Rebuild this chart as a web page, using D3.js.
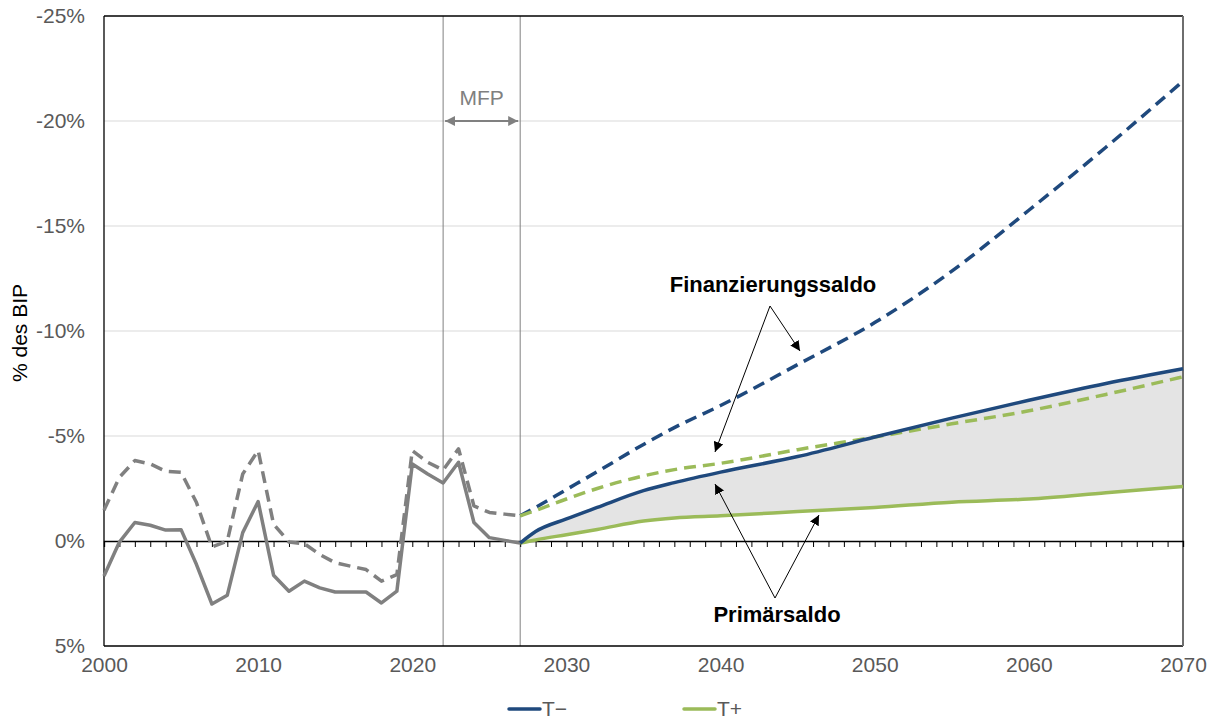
<!DOCTYPE html>
<html><head><meta charset="utf-8">
<script src="https://cdn.jsdelivr.net/npm/d3@7"></script>
<style>body{margin:0;background:#fff}svg{display:block;font-family:Arial,"Liberation Sans",sans-serif}</style>
</head><body><svg id="c" width="1215" height="724"></svg>
<script>
// Historical data (2000-2027)
const histYears = d3.range(2000, 2028);
const histPrimary = [1.67, 0.05, -0.88, -0.75, -0.52, -0.54, 1.12, 3.0, 2.58, -0.4, -1.88, 1.63, 2.39, 1.91, 2.23, 2.43, 2.43, 2.43, 2.95, 2.39, -3.67, -3.19, -2.76, -3.75, -0.88, -0.16, -0.03, 0.1];
const histFinancing = [-1.47, -3.03, -3.83, -3.67, -3.32, -3.27, -1.83, 0.29, 0.0, -3.19, -4.31, -0.8, 0.05, 0.13, 0.64, 1.04, 1.2, 1.36, 1.91, 1.6, -4.31, -3.75, -3.38, -4.39, -1.67, -1.36, -1.28, -1.2];
// Projections (2027-2070)
const projYears = [2027, 2028, 2030, 2032, 2035, 2037, 2040, 2045, 2050, 2055, 2060, 2065, 2070];
const tMinusFinancing = [-1.2, -1.6, -2.45, -3.3, -4.6, -5.4, -6.45, -8.4, -10.4, -12.85, -15.75, -18.75, -21.9];
const tPlusFinancing = [-1.2, -1.45, -2.0, -2.5, -3.1, -3.4, -3.7, -4.35, -4.95, -5.58, -6.2, -6.98, -7.82];
const tMinusPrimary = [0.1, -0.45, -1.05, -1.6, -2.4, -2.78, -3.28, -4.02, -4.95, -5.85, -6.7, -7.5, -8.2];
const tPlusPrimary = [0.1, -0.05, -0.3, -0.55, -0.95, -1.1, -1.2, -1.4, -1.6, -1.85, -2.0, -2.3, -2.6];
const yTicks = [-25, -20, -15, -10, -5, 0, 5];
const xTicks = [2000, 2010, 2020, 2030, 2040, 2050, 2060, 2070];
const mfpYears = [2022, 2027];
const legendItems = ["T\u2212", "T+"];

const svg = d3.select("#c");
const L = 104, R = 1183, T = 16, B = 646;
const x = d3.scaleLinear().domain([2000, 2070]).range([L, R]);
const y = d3.scaleLinear().domain([-25, 5]).range([T, B]);
const gray = "#808080", blue = "#1f497d", green = "#9bbb59", txt = "#595959";
const FS = 21;

// gridlines
svg.append("g").selectAll("line").data(yTicks.filter(v => v > -25 && v < 0)).join("line")
  .attr("x1", L).attr("x2", R).attr("y1", d => y(d)).attr("y2", d => y(d))
  .attr("stroke", "#d9d9d9").attr("stroke-width", 1);

// shaded area between primary balances
const proj = projYears.map((yr, i) => ({yr, a: tMinusPrimary[i], b: tPlusPrimary[i]}));
svg.append("path").datum(proj)
  .attr("d", d3.area().x(d => x(d.yr)).y0(d => y(d.b)).y1(d => y(d.a)).curve(d3.curveMonotoneX))
  .attr("fill", "#e4e4e4");

// MFP lines
svg.append("g").selectAll("line").data(mfpYears).join("line")
  .attr("x1", d => x(d)).attr("x2", d => x(d)).attr("y1", T).attr("y2", B)
  .attr("stroke", gray).attr("stroke-width", 1);

// axes
const yAxis = d3.axisLeft(y).tickValues(yTicks).tickSize(0).tickPadding(19).tickFormat(d => d + "%");
const gy = svg.append("g").attr("transform", `translate(${L},0)`).call(yAxis);
gy.select(".domain").remove();
gy.selectAll("text").attr("font-size", FS).attr("fill", txt).attr("font-family", "Arial, Liberation Sans, sans-serif");

const xAxis = d3.axisBottom(x).tickValues(xTicks).tickSize(0).tickPadding(11).tickFormat(d3.format("d"));
const gx = svg.append("g").attr("transform", `translate(0,${B})`).call(xAxis);
gx.select(".domain").remove();
gx.selectAll("text").attr("font-size", FS).attr("fill", txt).attr("font-family", "Arial, Liberation Sans, sans-serif");

// frame
svg.append("line").attr("x1", L).attr("x2", R).attr("y1", T).attr("y2", T).attr("stroke", "#000").attr("stroke-width", 1.3);
svg.append("line").attr("x1", L).attr("x2", L).attr("y1", T).attr("y2", B).attr("stroke", "#000").attr("stroke-width", 1.3);
svg.append("line").attr("x1", L).attr("x2", R).attr("y1", B).attr("y2", B).attr("stroke", "#000").attr("stroke-width", 1.3);
svg.append("line").attr("x1", R).attr("x2", R).attr("y1", T).attr("y2", B).attr("stroke", "#6e6e6e").attr("stroke-width", 2);

// zero line with yearly ticks
const zeroAxis = d3.axisBottom(x).tickValues(d3.range(2000, 2071)).tickSize(6).tickFormat("");
const gz = svg.append("g").attr("transform", `translate(0,${y(0)})`).call(zeroAxis);
gz.select(".domain").attr("stroke", "#000").attr("stroke-width", 1.3);
gz.selectAll(".tick line").attr("stroke", "#000").attr("stroke-width", 1);

// y title
svg.append("text").attr("transform", `translate(27,333) rotate(-90)`)
  .attr("text-anchor", "middle").attr("font-size", FS).attr("fill", "#000").text("% des BIP");

// lines
const line = d3.line().x(d => x(d[0])).y(d => y(d[1]));
const lineC = d3.line().x(d => x(d[0])).y(d => y(d[1])).curve(d3.curveMonotoneX);
function draw(years, vals, color, dash, gen) {
  svg.append("path").datum(years.map((yr, i) => [yr, vals[i]]))
    .attr("d", gen).attr("fill", "none").attr("stroke", color).attr("stroke-width", 3.5)
    .attr("stroke-linejoin", "round").attr("stroke-dasharray", dash ? "12,7" : null);
}
draw(histYears, histFinancing, gray, true, line);
draw(histYears, histPrimary, gray, false, line);
draw(projYears, tMinusFinancing, blue, true, lineC);
draw(projYears, tPlusFinancing, green, true, lineC);
draw(projYears, tPlusPrimary, green, false, lineC);
draw(projYears, tMinusPrimary, blue, false, lineC);

// arrow markers
const defs = svg.append("defs");
defs.append("marker").attr("id", "ah").attr("viewBox", "0 0 10 10").attr("refX", 10).attr("refY", 5)
  .attr("markerWidth", 10).attr("markerHeight", 10).attr("markerUnits", "userSpaceOnUse").attr("orient", "auto")
  .append("path").attr("d", "M0,0L10,5L0,10z").attr("fill", "#000");
defs.append("marker").attr("id", "ag").attr("viewBox", "0 0 10 10").attr("refX", 10).attr("refY", 5)
  .attr("markerWidth", 10).attr("markerHeight", 10).attr("markerUnits", "userSpaceOnUse").attr("orient", "auto-start-reverse")
  .append("path").attr("d", "M0,0L10,5L0,10z").attr("fill", gray);

// MFP annotation
svg.append("line").attr("x1", x(2022) + 2).attr("x2", x(2027) - 2).attr("y1", y(-20)).attr("y2", y(-20))
  .attr("stroke", gray).attr("stroke-width", 2).attr("marker-start", "url(#ag)").attr("marker-end", "url(#ag)");
svg.append("text").attr("x", (x(2022) + x(2027)) / 2).attr("y", 105).attr("text-anchor", "middle")
  .attr("font-size", FS).attr("fill", gray).text("MFP");

// annotations
svg.append("text").attr("x", 773).attr("y", 292).attr("text-anchor", "middle").attr("font-size", 22)
  .attr("font-weight", "bold").attr("fill", "#000").text("Finanzierungssaldo");
const arr = (x1, y1, x2, y2) => svg.append("line").attr("x1", x1).attr("y1", y1).attr("x2", x2).attr("y2", y2)
  .attr("stroke", "#000").attr("stroke-width", 1).attr("marker-end", "url(#ah)");
arr(770, 306, 800, 351);
arr(770, 306, 715, 452);
svg.append("text").attr("x", 777).attr("y", 622).attr("text-anchor", "middle").attr("font-size", 22)
  .attr("font-weight", "bold").attr("fill", "#000").text("Primärsaldo");
arr(775, 598, 715, 484);
arr(775, 598, 819, 515);

// legend
const lg = svg.append("g");
[blue, green].forEach((c, i) => {
  const lx = 509 + i * 175;
  lg.append("line").attr("x1", lx).attr("x2", lx + 31).attr("y1", 709).attr("y2", 709)
    .attr("stroke", c).attr("stroke-width", 3.5).attr("stroke-linecap", "round");
  lg.append("text").attr("x", lx + 33).attr("y", 716).attr("font-size", FS).attr("fill", txt).text(legendItems[i]);
});
</script></body></html>
